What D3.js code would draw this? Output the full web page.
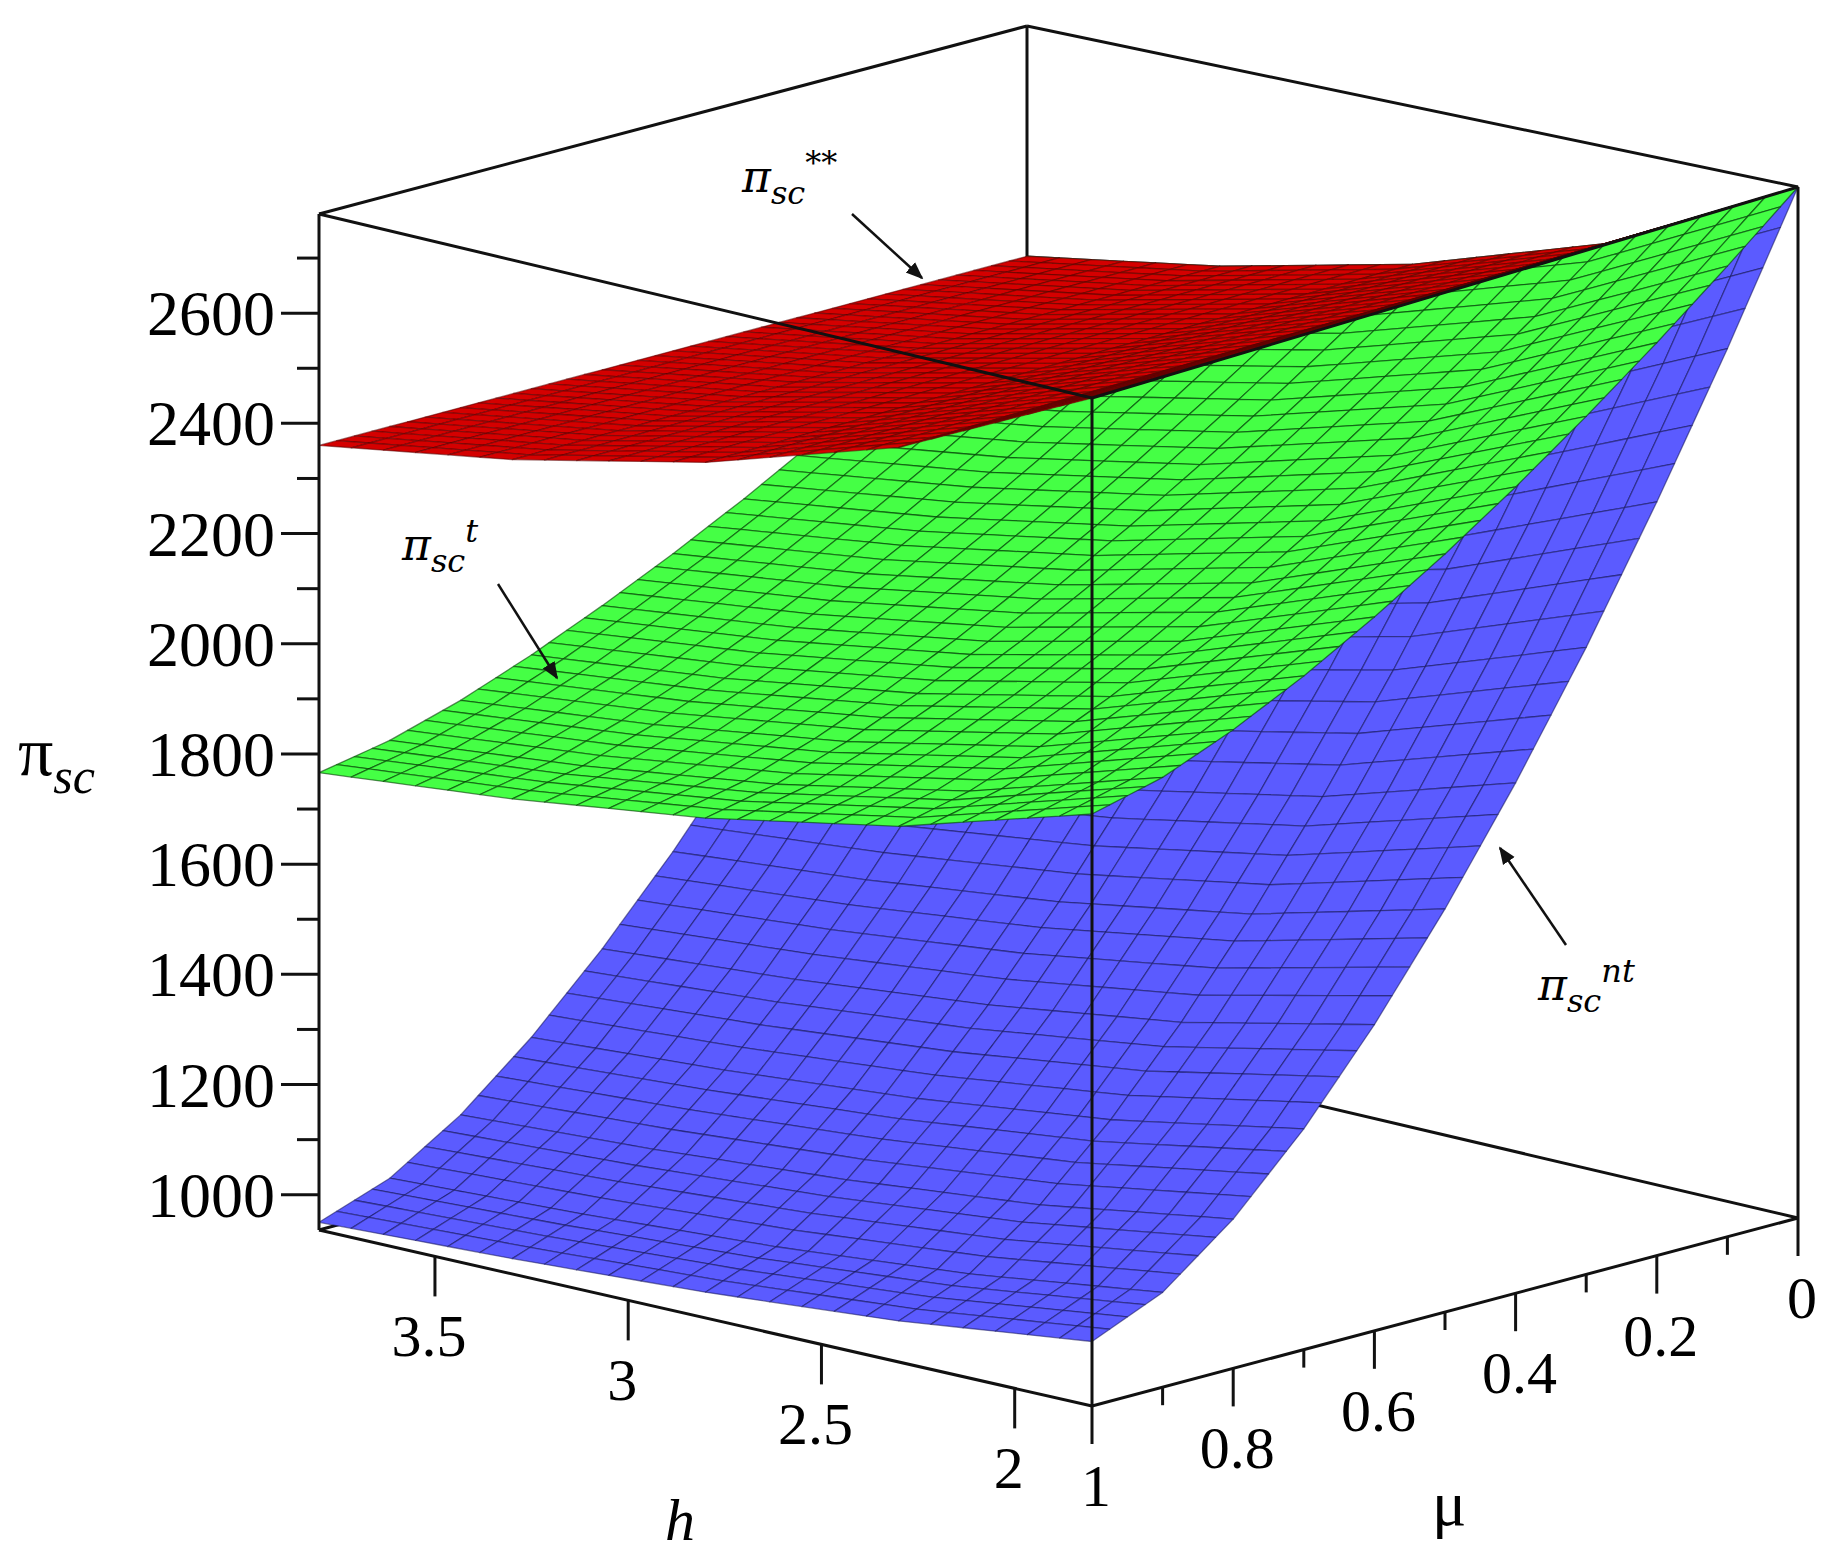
<!DOCTYPE html>
<html>
<head>
<meta charset="utf-8">
<script src="https://cdn.jsdelivr.net/npm/d3@7"></script>
<style>
  body { margin: 0; background: #fff; }
  svg { display: block; font-family: "Liberation Serif", "DejaVu Serif", serif; }
</style>
</head>
<body>
<svg width="1837" height="1565"></svg>
<script>
// grid
const hValues = [1.8, 2.3, 2.8, 3.3, 3.8];
const muValues = [0, 0.1, 0.2, 0.3, 0.4, 0.5, 0.6, 0.7, 0.8, 0.9, 1];

// pi_sc^nt (blue), rows follow hValues, columns follow muValues
const piNt = [
  [2780, 2528, 2290, 2065, 1857, 1665, 1491, 1337, 1208, 1109, 1054],
  [2606, 2373, 2153, 1946, 1753, 1576, 1415, 1273, 1153, 1062, 1011],
  [2495, 2274, 2066, 1869, 1686, 1518, 1366, 1231, 1118, 1031, 983],
  [2417, 2205, 2004, 1815, 1640, 1478, 1332, 1202, 1093, 1010, 964],
  [2360, 2154, 1960, 1776, 1606, 1449, 1307, 1181, 1075, 995, 950]
];
// pi_sc^t (green)
const piT = [
  [2780, 2676, 2576, 2481, 2391, 2307, 2230, 2160, 2099, 2049, 2019],
  [2606, 2511, 2421, 2334, 2252, 2176, 2106, 2042, 1987, 1942, 1914],
  [2495, 2406, 2321, 2240, 2164, 2093, 2026, 1967, 1915, 1873, 1847],
  [2417, 2332, 2252, 2175, 2102, 2034, 1971, 1914, 1865, 1825, 1800],
  [2360, 2279, 2201, 2127, 2056, 1991, 1931, 1876, 1828, 1790, 1766]
];
// pi_sc** (red), flat in mu
const piStar = [
  [2780, 2780, 2780, 2780, 2780, 2780, 2780, 2780, 2780, 2780, 2780],
  [2606, 2606, 2606, 2606, 2606, 2606, 2606, 2606, 2606, 2606, 2606],
  [2495, 2495, 2495, 2495, 2495, 2495, 2495, 2495, 2495, 2495, 2495],
  [2417, 2417, 2417, 2417, 2417, 2417, 2417, 2417, 2417, 2417, 2417],
  [2360, 2360, 2360, 2360, 2360, 2360, 2360, 2360, 2360, 2360, 2360]
];

const zTicks = [1000, 1200, 1400, 1600, 1800, 2000, 2200, 2400, 2600];
const zMinor = d3.range(1000, 2701, 100);
const hTicks = [2, 2.5, 3, 3.5];
const muTicks = [0, 0.2, 0.4, 0.6, 0.8, 1];
const muMinor = d3.range(0, 1.01, 0.1);

const svg = d3.select('svg');

// box corners on screen: F = (hmin, mu=1), L = (hmax, mu=1), R = (hmin, mu=0), B = (hmax, mu=0)
const bottomQ = { F: [1092, 1406], L: [319, 1230], R: [1798, 1218], B: [1027, 1037] };
const topQ = { F: [1092, 398], L: [319, 214], R: [1798, 187], B: [1027, 26] };

const u = d3.scaleLinear().domain([1.8, 3.8]).range([0, 1]);
const v = d3.scaleLinear().domain([1, 0]).range([0, 1]);
const w = d3.scaleLinear().domain([936, 2780]).range([0, 1]);

function quadAt(q, a, b) {
  return [0, 1].map(i => q.F[i] * (1 - a) * (1 - b) + q.L[i] * a * (1 - b) + q.R[i] * (1 - a) * b + q.B[i] * a * b);
}
function proj(h, mu, z) {
  const a = u(h), b = v(mu), c = w(z);
  const p0 = quadAt(bottomQ, a, b), p1 = quadAt(topQ, a, b);
  return [p0[0] + (p1[0] - p0[0]) * c, p0[1] + (p1[1] - p0[1]) * c];
}

const line = d3.line();
const edge = (a, b) => svg.append('path').attr('d', line([a, b]))
  .attr('stroke', '#111').attr('stroke-width', 3).attr('fill', 'none');

// back edges first
edge(bottomQ.L, bottomQ.B);
edge(bottomQ.B, bottomQ.R);
edge(bottomQ.B, topQ.B);
edge(topQ.L, topQ.B);
edge(topQ.B, topQ.R);

// surfaces
const hScale = d3.scaleLinear().domain([0, hValues.length - 1]).range([hValues[0], hValues[hValues.length - 1]]);
const muScale = d3.scaleLinear().domain([0, muValues.length - 1]).range([muValues[0], muValues[muValues.length - 1]]);
function surfZ(grid, fi, fj) {
  const i0 = Math.min(Math.floor(fi), grid.length - 2), j0 = Math.min(Math.floor(fj), grid[0].length - 2);
  const ti = fi - i0, tj = fj - j0;
  const a = grid[i0][j0] + (grid[i0][j0 + 1] - grid[i0][j0]) * tj;
  const b = grid[i0 + 1][j0] + (grid[i0 + 1][j0 + 1] - grid[i0 + 1][j0]) * tj;
  return a + (b - a) * ti;
}

function drawSurface(grid, base, meshColor) {
  const nh = 24, nm = 40;
  const g = svg.append('g');
  const cells = [];
  for (let i = 0; i < nh; i++) {
    for (let j = 0; j < nm; j++) {
      const corners = [[i, j], [i + 1, j], [i + 1, j + 1], [i, j + 1]].map(([a, b]) => {
        const fi = a / nh * (hValues.length - 1), fj = b / nm * (muValues.length - 1);
        return { h: hScale(fi), mu: muScale(fj), z: surfZ(grid, fi, fj) };
      });
      const depth = d3.mean(corners, c => u(c.h) + v(c.mu));
      const dz1 = w(corners[1].z) - w(corners[0].z), dz2 = w(corners[3].z) - w(corners[0].z);
      const n = [-dz1 * nh, -dz2 * nm * 0.6, 1];
      const len = Math.hypot(...n);
      const light = (n[0] * 0.3 + n[1] * 0.35 + n[2] * 0.88) / len;
      cells.push({ corners, depth, light });
    }
  }
  cells.sort((a, b) => b.depth - a.depth);
  g.selectAll('path').data(cells).join('path')
    .attr('d', d => line(d.corners.map(c => proj(c.h, c.mu, c.z))) + 'Z')
    .attr('fill', d => d3.color(base).darker(Math.max(0, 0.9 - d.light) * 1.2).formatHex())
    .attr('stroke', meshColor)
    .attr('stroke-width', 1.3)
    .attr('stroke-linejoin', 'round');
}

drawSurface(piNt, '#5b5bff', 'rgba(20,20,90,0.55)');
drawSurface(piT, '#45ff45', 'rgba(0,60,0,0.6)');
drawSurface(piStar, '#d40000', 'rgba(90,0,0,0.55)');

// front edges
edge(bottomQ.L, bottomQ.F);
edge(bottomQ.F, bottomQ.R);
edge(bottomQ.L, topQ.L);
edge(bottomQ.F, topQ.F);
edge(bottomQ.R, topQ.R);
edge(topQ.L, topQ.F);
edge(topQ.F, topQ.R);

// z axis on left edge
const zAxis = svg.append('g');
zMinor.forEach(z => {
  const p = proj(3.8, 1, z);
  const major = zTicks.includes(z);
  zAxis.append('line').attr('x1', p[0] - (major ? 38 : 22)).attr('x2', p[0])
    .attr('y1', p[1]).attr('y2', p[1]).attr('stroke', '#111').attr('stroke-width', 3);
});
zTicks.forEach(z => {
  const p = proj(3.8, 1, z);
  zAxis.append('text').attr('x', p[0] - 44).attr('y', p[1] + 22)
    .attr('text-anchor', 'end').attr('font-size', 64).text(z);
});

// h axis on bottom left-front edge
hTicks.forEach(h => {
  const p = proj(h, 1, 936);
  svg.append('line').attr('x1', p[0]).attr('x2', p[0]).attr('y1', p[1]).attr('y2', p[1] + 40)
    .attr('stroke', '#111').attr('stroke-width', 3);
  svg.append('text').attr('x', p[0] - 6).attr('y', p[1] + 100)
    .attr('text-anchor', 'middle').attr('font-size', 60).text(h);
});

// mu axis on bottom front-right edge
muMinor.forEach(m => {
  const p = proj(1.8, m, 936);
  const major = muTicks.some(t => Math.abs(t - m) < 1e-6);
  svg.append('line').attr('x1', p[0]).attr('x2', p[0]).attr('y1', p[1]).attr('y2', p[1] + (major ? 38 : 18))
    .attr('stroke', '#111').attr('stroke-width', 3);
});
muTicks.forEach(m => {
  const p = proj(1.8, m, 936);
  svg.append('text').attr('x', p[0] + 4).attr('y', p[1] + 100)
    .attr('text-anchor', 'middle').attr('font-size', 60).text(m);
});

// axis titles
const zt = svg.append('text').attr('x', 18).attr('y', 775).attr('font-size', 70);
zt.append('tspan').text('π');
zt.append('tspan').attr('font-style', 'italic').attr('font-size', 50).attr('dy', 18).text('sc');
svg.append('text').attr('x', 665).attr('y', 1540).attr('font-size', 60).attr('font-style', 'italic').text('h');
svg.append('text').attr('x', 1432).attr('y', 1525).attr('font-size', 64).text('μ');

// annotations
svg.append('defs').append('marker').attr('id', 'arr').attr('viewBox', '0 0 10 10')
  .attr('refX', 9).attr('refY', 5).attr('markerWidth', 7).attr('markerHeight', 7).attr('orient', 'auto')
  .append('path').attr('d', 'M0,1 L10,5 L0,9 Z').attr('fill', '#111');

function note(x, y, sup, from, to) {
  const t = svg.append('text').attr('x', x).attr('y', y).attr('font-size', 44).attr('font-family', 'DejaVu Serif');
  t.append('tspan').attr('font-style', 'italic').text('π');
  t.append('tspan').attr('font-style', 'italic').attr('font-size', 32).attr('dy', 12).text('sc');
  t.append('tspan').attr('font-style', 'italic').attr('font-size', 32).attr('dy', -30).text(sup);
  svg.append('line').attr('x1', from[0]).attr('y1', from[1]).attr('x2', to[0]).attr('y2', to[1])
    .attr('stroke', '#111').attr('stroke-width', 2.5).attr('marker-end', 'url(#arr)');
}
note(742, 192, '**', [852, 214], [922, 278]);
note(402, 560, 't', [498, 584], [557, 678]);
note(1538, 1000, 'nt', [1566, 945], [1500, 848]);
</script>
</body>
</html>
